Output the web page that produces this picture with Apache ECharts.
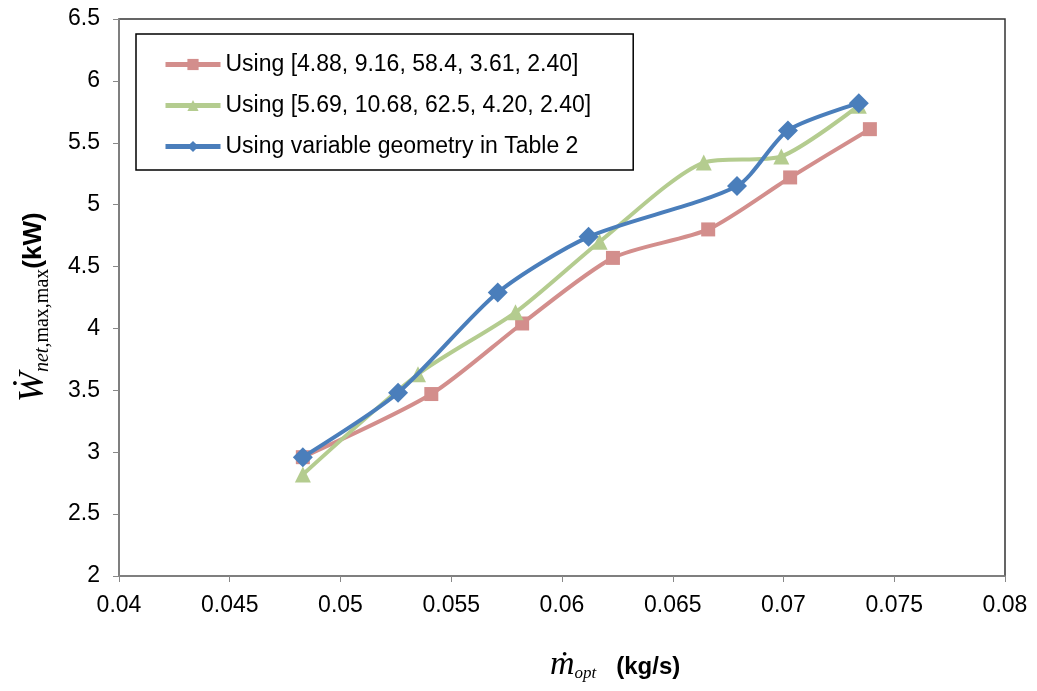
<!DOCTYPE html>
<html>
<head>
<meta charset="utf-8">
<script src="https://cdn.jsdelivr.net/npm/echarts@6/dist/echarts.min.js"></script>
<style>
  html, body { margin: 0; padding: 0; background: #fff; }
  #chart { width: 1037px; height: 691px; }
</style>
</head>
<body>
<div id="chart"></div>
<script>
// series names (legend)
const seriesNames = [
  'Using [4.88, 9.16, 58.4, 3.61, 2.40]',
  'Using [5.69, 10.68, 62.5, 4.20, 2.40]',
  'Using variable geometry in Table 2'
];

// fixed geometry 1 (red squares)
const redX = [0.0483, 0.0541, 0.0582, 0.0623, 0.0666, 0.0703, 0.0739];
const redY = [2.96, 3.47, 4.04, 4.57, 4.80, 5.22, 5.61];

// fixed geometry 2 (green triangles)
const greenX = [0.0483, 0.0535, 0.0579, 0.0617, 0.0664, 0.0699, 0.0734];
const greenY = [2.82, 3.63, 4.13, 4.70, 5.34, 5.39, 5.80];

// variable geometry (blue diamonds)
const blueX = [0.0483, 0.0526, 0.0571, 0.0612, 0.0679, 0.0702, 0.0734];
const blueY = [2.96, 3.48, 4.29, 4.74, 5.15, 5.60, 5.82];

const zip = (xs, ys) => xs.map((x, i) => [x, ys[i]]);

const chart = echarts.init(document.getElementById('chart'));

const tickFont = { fontFamily: 'Liberation Sans, Arial', fontSize: 23, color: '#000' };
const serif = 'Liberation Serif, Times New Roman';

const option = {
  animation: false,
  backgroundColor: '#fff',
  grid: {
    left: 119,
    right: 32,
    top: 19,
    bottom: 115,
    show: true,
    borderColor: '#333',
    borderWidth: 1.5
  },
  legend: {
    orient: 'vertical',
    left: 136,
    top: 34,
    padding: [19, 42, 12, 27],
    itemGap: 18,
    itemWidth: 55,
    itemHeight: 14,
    itemStyle: { borderWidth: 0 },
    lineStyle: { width: 5 },
    backgroundColor: '#fff',
    borderColor: '#000',
    borderWidth: 1.5,
    textStyle: { fontFamily: 'Liberation Sans, Arial', fontSize: 23, color: '#000' },
    data: seriesNames
  },
  xAxis: {
    type: 'value',
    min: 0.04,
    max: 0.08,
    interval: 0.005,
    axisLine: { show: true, lineStyle: { color: '#888', width: 1.5 } },
    axisTick: { show: true, length: 6, lineStyle: { color: '#888' } },
    splitLine: { show: false },
    axisLabel: Object.assign({ margin: 18, formatter: v => String(+v.toFixed(3)) }, tickFont)
  },
  yAxis: {
    type: 'value',
    min: 2,
    max: 6.5,
    interval: 0.5,
    axisLine: { show: true, lineStyle: { color: '#888', width: 1.5 } },
    axisTick: { show: true, length: 6, lineStyle: { color: '#888' } },
    splitLine: { show: false },
    axisLabel: Object.assign({ margin: 19, formatter: v => String(+v.toFixed(1)) }, tickFont)
  },
  graphic: [
    {
      // x axis title
      type: 'text',
      x: 550,
      y: 665,
      style: {
        text: '{m|ṁ}{sub|opt}{u|(kg/s)}',
        verticalAlign: 'middle',
        rich: {
          m: { fontFamily: serif, fontStyle: 'italic', fontSize: 34, fill: '#000' },
          sub: { fontFamily: serif, fontStyle: 'italic', fontSize: 17, fill: '#000', verticalAlign: 'bottom', padding: [16, 0, 0, 0] },
          u: { fontFamily: 'Liberation Sans, Arial', fontWeight: 'bold', fontSize: 24, fill: '#000', padding: [4, 0, 0, 20] }
        }
      }
    },
    {
      // y axis title
      type: 'text',
      x: 34,
      y: 402,
      rotation: Math.PI / 2,
      style: {
        text: '{w|Ẇ}{subi|net}{sub|,max,max}{u|(kW)}',
        verticalAlign: 'middle',
        rich: {
          w: { fontFamily: serif, fontStyle: 'italic', fontSize: 36, fill: '#000' },
          subi: { fontFamily: serif, fontStyle: 'italic', fontSize: 20, fill: '#000', verticalAlign: 'bottom', padding: [18, 0, 0, 0] },
          sub: { fontFamily: serif, fontSize: 20, fill: '#000', verticalAlign: 'bottom', padding: [18, 0, 0, 0] },
          u: { fontFamily: 'Liberation Sans, Arial', fontWeight: 'bold', fontSize: 26, fill: '#000' }
        }
      }
    }
  ],
  series: [
    {
      name: seriesNames[0],
      type: 'line',
      smooth: 0.25,
      data: zip(redX, redY),
      symbol: 'rect',
      symbolSize: 14,
      color: '#d38e8c',
      lineStyle: { width: 4, color: '#d38e8c' },
      itemStyle: { color: '#d38e8c' },
      z: 2
    },
    {
      name: seriesNames[1],
      type: 'line',
      smooth: 0.25,
      data: zip(greenX, greenY),
      symbol: 'triangle',
      symbolSize: 16,
      color: '#b4cc8f',
      lineStyle: { width: 4, color: '#b4cc8f' },
      itemStyle: { color: '#b4cc8f' },
      z: 3
    },
    {
      name: seriesNames[2],
      type: 'line',
      smooth: 0.25,
      data: zip(blueX, blueY),
      symbol: 'diamond',
      symbolSize: 20,
      color: '#4a7ebb',
      lineStyle: { width: 4, color: '#4a7ebb' },
      itemStyle: { color: '#4a7ebb' },
      z: 4
    }
  ]
};

chart.setOption(option);
</script>
</body>
</html>
